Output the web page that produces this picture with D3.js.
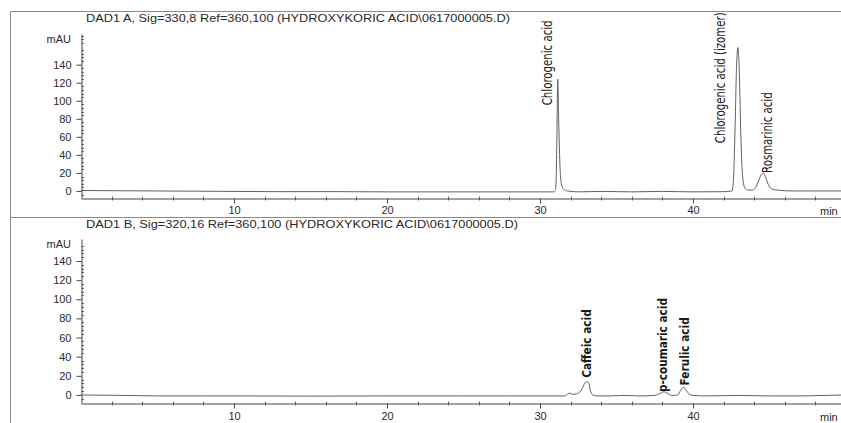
<!DOCTYPE html>
<html>
<head>
<meta charset="utf-8">
<script src="https://cdn.jsdelivr.net/npm/d3@7"></script>
<style>
  body { margin: 0; background: #fff; }
  svg { display: block; font-family: 'Liberation Sans', Arial, sans-serif; }
</style>
</head>
<body>
<svg id="chart" width="841" height="423"></svg>
<script>
'use strict';

// signal A (330 nm) trace: time (min) / absorbance (mAU)
const timesA = [0, 2, 5, 8, 10, 13, 16, 20, 24, 28, 30, 30.9, 31.0, 31.05, 31.1, 31.16, 31.22, 31.3, 31.4, 31.55,
  31.8, 32.5, 34, 36, 38, 40, 42, 42.55, 42.65, 42.75, 42.85, 42.94, 43.03, 43.13, 43.25, 43.4, 43.6, 43.9, 44.1,
  44.3, 44.5, 44.6, 44.75, 44.95, 45.2, 45.5, 46.5, 48, 50];
const mauA = [0.5, 0.3, 0, -0.3, -0.5, -0.8, -0.7, -1, -1, -1, -1, -1, 0, 10, 55, 124, 80, 30, 8, 2,
  0, -1, -0.5, -1, -0.5, -1, -0.8, 0, 15, 70, 140, 159, 130, 60, 15, 3, 1, 1, 4,
  12, 19, 20, 15, 6, 2, 1, 0, 0, 0];

// signal B (320 nm) trace
const timesB = [0, 3, 5, 8, 10, 15, 20, 25, 28, 30, 31.3, 31.6, 31.8, 31.95, 32.1, 32.3, 32.6, 32.8, 32.95, 33.1,
  33.2, 33.3, 33.45, 33.7, 34.5, 35.5, 36.5, 37.5, 37.9, 38.1, 38.3, 38.6, 39.0, 39.2, 39.4, 39.55, 39.75, 40,
  41, 43, 45, 47, 48.5, 50];
const mauB = [0, -0.5, -1, -1, -1, -1.2, -1, -1, -1, -1, -1, -1, 1, 2, 0.5, 1, 3, 8, 13, 14,
  12, 4, 0, -1, -1, -0.5, -1, -0.5, 2, 3.5, 2, -0.5, 0, 5, 8, 5, 1, -0.5,
  -1, -0.5, -1, -1, -0.5, 0];

// peak names, with the time / mAU where each label's foot sits
const namesA = ['Chlorogenic acid', 'Chlorogenic acid (izomer)', 'Rosmarinic acid'];
const labelTimesA = [30.46, 41.76, 44.84];
const labelMauA = [95, 53, 20];
const namesB = ['Caffeic acid', 'p-coumaric acid', 'Ferulic acid'];
const labelTimesB = [33.05, 38.03, 39.42];
const labelMauB = [18, 3, 10];

const yTicks = [0, 20, 40, 60, 80, 100, 120, 140];
const xLabelTicks = [10, 20, 30, 40];
const titleA = 'DAD1 A, Sig=330,8 Ref=360,100 (HYDROXYKORIC ACID\\0617000005.D)';
const titleB = 'DAD1 B, Sig=320,16 Ref=360,100 (HYDROXYKORIC ACID\\0617000005.D)';

const svg = d3.select('#chart');
const axisColor = '#444';
const traceColor = '#606060';

// frame of the printout
svg.append('path')
  .attr('d', 'M10.5,423 V11.5 H841')
  .attr('fill', 'none').attr('stroke', '#8a8a8a');
svg.append('line')
  .attr('x1', 10).attr('x2', 841).attr('y1', 217.5).attr('y2', 217.5)
  .attr('stroke', '#8a8a8a');

const drawPanel = (cfg) => {
  const x = d3.scaleLinear().domain([0, 50]).range([81, 846]);
  const y = d3.scaleLinear().domain(cfg.yDomain).range(cfg.yRange);
  const g = svg.append('g');

  // title
  g.append('text')
    .attr('x', 86).attr('y', cfg.titleY)
    .attr('font-size', 11).attr('fill', '#2a2a2a')
    .attr('textLength', cfg.titleLen).attr('lengthAdjust', 'spacingAndGlyphs')
    .text(cfg.title);

  // y axis: labelled majors on the left, minor ticks on the right
  const yAxis = g.append('g')
    .attr('transform', `translate(81.5,0)`)
    .call(d3.axisLeft(y).tickValues(yTicks).tickSize(5).tickSizeOuter(0).tickPadding(5));
  yAxis.select('.domain').attr('stroke', axisColor);
  yAxis.selectAll('.tick line').attr('stroke', axisColor);
  yAxis.selectAll('.tick text').attr('font-size', 11).attr('fill', '#2a2a2a')
    .attr('font-family', "'Liberation Sans', Arial, sans-serif");
  const minorY = d3.range(-4, cfg.yDomain[1], 4).filter((v) => v % 20 !== 0);
  g.append('g').selectAll('line')
    .data(minorY).join('line')
    .attr('x1', 81.5).attr('x2', 84)
    .attr('y1', (d) => Math.round(y(d)) + 0.5).attr('y2', (d) => Math.round(y(d)) + 0.5)
    .attr('stroke', axisColor).attr('stroke-width', 0.8);
  g.append('text')
    .attr('x', 71).attr('y', cfg.mauY)
    .attr('text-anchor', 'end').attr('font-size', 11).attr('fill', '#2a2a2a')
    .text('mAU');

  // x axis
  const xAxis = g.append('g')
    .attr('transform', `translate(0,${cfg.axisY + 0.5})`)
    .call(d3.axisBottom(x).tickValues(xLabelTicks).tickSize(5).tickSizeOuter(0).tickPadding(cfg.xPad));
  xAxis.select('.domain').attr('stroke', axisColor);
  xAxis.selectAll('.tick line').attr('stroke', axisColor);
  xAxis.selectAll('.tick text').attr('font-size', 11).attr('fill', '#2a2a2a')
    .attr('font-family', "'Liberation Sans', Arial, sans-serif");
  const minorX = d3.range(2, 50, 2).filter((v) => v % 10 !== 0);
  g.append('g').selectAll('line')
    .data(minorX).join('line')
    .attr('x1', (d) => Math.round(x(d)) + 0.5).attr('x2', (d) => Math.round(x(d)) + 0.5)
    .attr('y1', cfg.axisY - 1.5).attr('y2', cfg.axisY + 2.5)
    .attr('stroke', axisColor).attr('stroke-width', 0.8);
  g.append('text')
    .attr('x', 820).attr('y', cfg.minY)
    .attr('font-size', 11).attr('fill', '#2a2a2a')
    .text('min');

  // trace
  const pts = cfg.times.map((t, i) => [t, cfg.values[i]]);
  g.append('path')
    .datum(pts)
    .attr('fill', 'none')
    .attr('stroke', traceColor)
    .attr('stroke-width', 1)
    .attr('d', d3.line().x((d) => x(d[0])).y((d) => y(d[1])).curve(d3.curveMonotoneX));

  // peak labels, rotated to read upwards, squeezed along the text like the narrow print font
  cfg.names.forEach((name, i) => {
    const px = x(cfg.labelTimes[i]);
    const py = y(cfg.labelMau[i]);
    g.append('text')
      .attr('transform', `translate(${px},${py}) rotate(-90) scale(${cfg.labelSqueeze},1)`)
      .attr('dy', '0.35em')
      .attr('font-family', "'DejaVu Sans Condensed', 'Liberation Sans Narrow', sans-serif")
      .attr('font-size', cfg.labelSize)
      .attr('font-weight', cfg.labelWeight)
      .attr('fill', '#1a1a1a')
      .text(name);
  });
};

drawPanel({
  title: titleA, titleY: 22, titleLen: 424,
  yDomain: [-7.8, 174], yRange: [198, 34], axisY: 198,
  mauY: 43, minY: 215, xPad: 3,
  times: timesA, values: mauA,
  names: namesA, labelTimes: labelTimesA, labelMau: labelMauA,
  labelWeight: 'normal', labelSize: 13.5, labelSqueeze: 0.84,
});
drawPanel({
  title: titleB, titleY: 228, titleLen: 432,
  yDomain: [-8.4, 163], yRange: [403, 239], axisY: 403,
  mauY: 248, minY: 421, xPad: 4,
  times: timesB, values: mauB,
  names: namesB, labelTimes: labelTimesB, labelMau: labelMauB,
  labelWeight: 'bold', labelSize: 13, labelSqueeze: 0.9,
});
</script>
</body>
</html>
